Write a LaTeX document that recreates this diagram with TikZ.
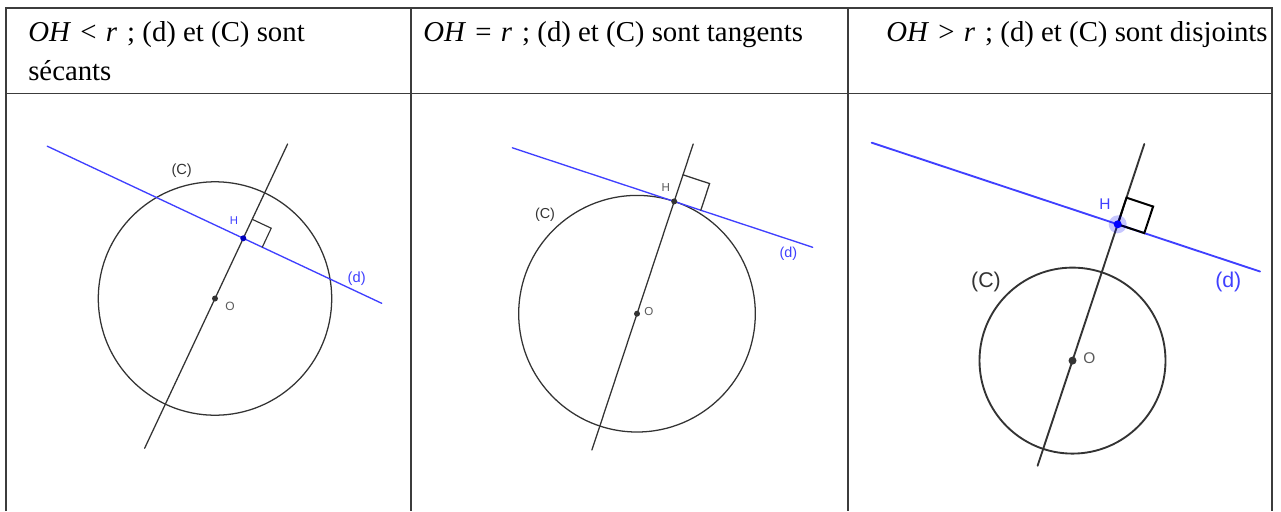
\documentclass[tikz,border=0pt]{standalone}
\usepackage{fontspec}
\setmainfont{Liberation Serif}
\newfontfamily\geofont{Liberation Sans}
\usetikzlibrary{calc}
\definecolor{gblue}{RGB}{64,64,255}
\definecolor{hblue}{RGB}{0,0,190}
\definecolor{gdark}{RGB}{51,51,51}
\definecolor{ggray}{RGB}{90,90,90}
\definecolor{gborder}{RGB}{60,60,60}
\newcommand{\rel}[2]{\textit{OH}\hspace{0.32em}#1\hspace{0.32em}\textit{#2}\hspace{0.35em};}
\tikzset{
  border/.style={draw=gborder, line width=1.1pt},
  hdr/.style={anchor=base west, inner sep=0pt, font=\fontsize{21.6}{30}\selectfont, text=black},
  blk/.style={draw=gdark, line width=0.95pt, line cap=round},
  blk3/.style={draw=gdark, line width=1.4pt, line cap=round},
  bln/.style={draw=gblue, line width=1.0pt, line cap=round},
  bln3/.style={draw=gblue, line width=1.4pt, line cap=round},
  lbl/.style={inner sep=0pt, font=\geofont\fontsize{#1}{#1}\selectfont},
  dot/.style={circle, fill=#1, inner sep=0pt, minimum size=4.5pt}
}
\begin{document}
\begin{tikzpicture}[x=0.75pt,y=-0.75pt]
\useasboundingbox (0,0) rectangle (1281,511);
\fill[white] (0,0) rectangle (1281,511);
% table
\draw[border] (6,511) -- (6,8) -- (1272,8) -- (1272,511);
\draw[border] (6,93.3) -- (1272,93.3);
\draw[border] (411,8) -- (411,511);
\draw[border] (848,8) -- (848,511);
% headers
\node[hdr] (h1) at (28,41) {\rel{<}{r} (d) et (C) sont};
\node[hdr] (h1b) at (28,80) {sécants};
\node[hdr] (h2) at (423,41) {\rel{=}{r} (d) et (C) sont tangents};
\node[hdr] (h3) at (886,41) {\rel{>}{r} (d) et (C) sont disjoints};

% ---------- panel 1 : secant ----------
\coordinate (O1) at (215,298.5);
\coordinate (H1) at (243.3,238.3);
\coordinate (d1a) at (47.3,146.2);
\coordinate (d1b) at (381.7,303.3);
\coordinate (p1a) at (287.6,144);
\coordinate (p1b) at (144.6,448.3);
\coordinate (q1a) at (252.2,219.3);
\coordinate (q1b) at (271.2,228.2);
\coordinate (q1c) at (262.3,247.2);
\draw[blk] (O1) circle[radius=116.7];
\draw[blk] (p1a) -- (p1b);
\draw[bln] (d1a) -- (d1b);
\draw[blk, line width=0.85pt] (q1a) -- (q1b) -- (q1c);
\node[dot=gdark] (o1) at (O1) {};
\node[dot=hblue] (hh1) at (H1) {};
\node[lbl=9, text=ggray] (lo1) at (230,306.7) {O};
\node[lbl=8.5, text=gblue] (lh1) at (234,220.7) {H};
\node[lbl=11, text=gdark] (lc1) at (181.7,170.7) {(C)};
\node[lbl=11, text=gblue] (ld1) at (356.7,278.3) {(d)};

% ---------- panel 2 : tangent ----------
\coordinate (O2) at (637,313.7);
\coordinate (H2) at (674.2,201.4);
\coordinate (d2a) at (512.3,147.8);
\coordinate (d2b) at (812.7,247.3);
\coordinate (p2a) at (693.2,144);
\coordinate (p2b) at (591.9,450);
\coordinate (q2a) at (683,174.8);
\coordinate (q2b) at (709.6,183.6);
\coordinate (q2c) at (700.8,210.2);
\draw[blk] (O2) circle[radius=118.3];
\draw[blk] (p2a) -- (p2b);
\draw[bln] (d2a) -- (d2b);
\draw[blk, line width=0.95pt] (q2a) -- (q2b) -- (q2c);
\node[dot=gdark] (o2) at (O2) {};
\node[dot=gdark] (hh2) at (H2) {};
\node[lbl=8.7, text=ggray] (lo2) at (649,311.7) {O};
\node[lbl=8.7, text=ggray] (lh2) at (665.7,187.3) {H};
\node[lbl=10.8, text=gdark] (lc2) at (545,215) {(C)};
\node[lbl=10.8, text=gblue] (ld2) at (788.3,254) {(d)};

% ---------- panel 3 : disjoint ----------
\coordinate (O3) at (1072.5,360.6);
\coordinate (H3) at (1117.7,224.3);
\coordinate (d3a) at (871.7,142.7);
\coordinate (d3b) at (1260,271.5);
\coordinate (p3a) at (1144.3,144);
\coordinate (p3b) at (1037.6,465.7);
\coordinate (q3a) at (1126.5,197.7);
\coordinate (q3b) at (1153.1,206.5);
\coordinate (q3c) at (1144.3,233.1);
\draw[blk3] (O3) circle[radius=93];
\draw[blk3] (p3a) -- (p3b);
\draw[bln3] (d3a) -- (d3b);
\draw[draw=black, line width=1.5pt] (H3) -- (q3a) -- (q3b) -- (q3c) -- (H3);
\fill[blue, opacity=0.22] (H3) circle[radius=9];
\node[dot=gdark, minimum size=6pt] (o3) at (O3) {};
\node[dot=blue, minimum size=6pt] (hh3) at (H3) {};
\node[lbl=11.6, text=ggray] (lo3) at (1089.3,357.7) {O};
\node[lbl=11.6, text=gblue] (lh3) at (1105,204) {H};
\node[lbl=16, text=gdark] (lc3) at (986,282.3) {(C)};
\node[lbl=16, text=gblue] (ld3) at (1228.3,282.3) {(d)};
\end{tikzpicture}
\end{document}
